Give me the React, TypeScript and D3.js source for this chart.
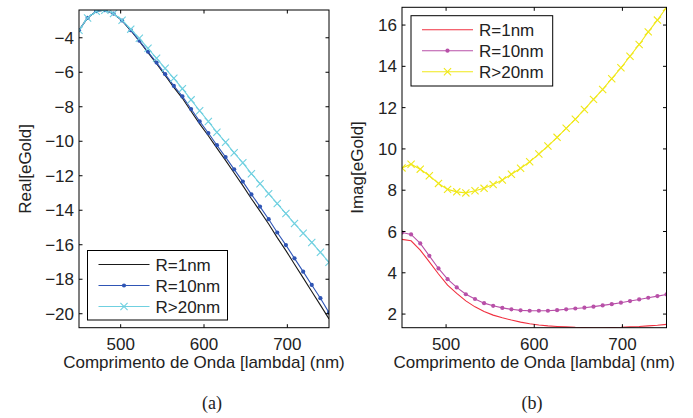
import React from "react";
import * as d3 from "d3";

// Wavelengths (nm): 30 samples between 450 and 750
const wavelength = [450.0, 460.3, 470.7, 481.0, 491.4, 501.7, 512.1, 522.4, 532.8, 543.1, 553.4, 563.8, 574.1, 584.5, 594.8, 605.2, 615.5, 625.9, 636.2, 646.6, 656.9, 667.2, 677.6, 687.9, 698.3, 708.6, 719.0, 729.3, 739.7, 750.0];

// (a) Real part
const realR1 = [-3.56, -2.85, -2.46, -2.40, -2.60, -3.01, -3.58, -4.20, -4.86, -5.50, -6.19, -6.88, -7.51, -8.26, -8.99, -9.68, -10.40, -11.11, -11.84, -12.57, -13.33, -14.05, -14.80, -15.59, -16.34, -17.13, -17.92, -18.71, -19.50, -20.30];
const realR10 = [-3.56, -2.85, -2.46, -2.40, -2.60, -3.00, -3.56, -4.17, -4.81, -5.44, -6.11, -6.79, -7.40, -8.13, -8.85, -9.52, -10.23, -10.92, -11.63, -12.34, -13.08, -13.79, -14.52, -15.29, -16.02, -16.79, -17.56, -18.33, -19.10, -19.94];
const realR20 = [-3.56, -2.85, -2.46, -2.40, -2.59, -2.98, -3.50, -4.03, -4.61, -5.19, -5.77, -6.35, -6.95, -7.60, -8.23, -8.85, -9.48, -10.06, -10.67, -11.25, -11.88, -12.46, -13.04, -13.61, -14.19, -14.77, -15.33, -15.87, -16.44, -17.02];

// (b) Imaginary part
const imagR1 = [5.62, 5.55, 5.10, 4.53, 3.94, 3.40, 3.00, 2.64, 2.35, 2.13, 1.95, 1.82, 1.71, 1.61, 1.53, 1.47, 1.43, 1.40, 1.38, 1.36, 1.35, 1.34, 1.34, 1.35, 1.36, 1.38, 1.40, 1.43, 1.46, 1.50];
const imagR10 = [5.95, 5.86, 5.42, 4.82, 4.21, 3.69, 3.29, 2.96, 2.73, 2.53, 2.40, 2.30, 2.23, 2.18, 2.16, 2.16, 2.16, 2.19, 2.23, 2.27, 2.31, 2.36, 2.42, 2.48, 2.55, 2.63, 2.71, 2.79, 2.87, 2.95];
const imagR20 = [9.08, 9.26, 9.02, 8.70, 8.33, 8.04, 7.92, 7.87, 7.97, 8.09, 8.28, 8.49, 8.77, 9.06, 9.38, 9.75, 10.14, 10.56, 11.00, 11.44, 11.91, 12.40, 12.88, 13.40, 13.93, 14.49, 15.06, 15.67, 16.24, 16.85];

const seriesNames = ["R=1nm", "R=10nm", "R>20nm"];
const xTicks = [500, 600, 700];
const realTicks = [-20, -18, -16, -14, -12, -10, -8, -6, -4];
const imagTicks = [2, 4, 6, 8, 10, 12, 14, 16];

const SANS = "'Liberation Sans', Arial, Helvetica, sans-serif";
const SERIF = "'Liberation Serif', 'Times New Roman', serif";
const FS = 17;

type Series = { name: string; values: number[]; color: string; marker: "none" | "dot" | "cross" };

function Marker({ kind, x, y, color }: { kind: string; x: number; y: number; color: string }) {
  if (kind === "dot") return <circle cx={x} cy={y} r={2.1} fill={color} />;
  if (kind === "cross") {
    const s = 3.6;
    return (
      <path d={`M${x - s},${y - s}L${x + s},${y + s}M${x - s},${y + s}L${x + s},${y - s}`} stroke={color} strokeWidth={1.1} fill="none" />
    );
  }
  return null;
}

function Panel(props: {
  id: string;
  left: number; right: number; top: number; bottom: number;
  yDomain: [number, number];
  yTicks: number[];
  series: Series[];
  ylabel: string;
  ylabelX: number;
  caption: string;
  captionX: number;
  legend: { x: number; y: number; w: number; h: number };
}) {
  const { left, right, top, bottom, series, legend } = props;
  const x = d3.scaleLinear().domain([450, 750]).range([left, right]);
  const y = d3.scaleLinear().domain(props.yDomain).range([bottom, top]);
  const fmt = d3.format("");
  const line = d3.line<number>().x((_, i) => x(wavelength[i])).y((v) => y(v));
  const tl = 3.5;
  const clipId = "clip-" + props.id;
  return (
    <g>
      <defs>
        <clipPath id={clipId}>
          <rect x={left} y={top} width={right - left} height={bottom - top} />
        </clipPath>
      </defs>
      <g clipPath={`url(#${clipId})`}>
        {series.map((s) => (
          <g key={s.name}>
            <path d={line(s.values) || ""} fill="none" stroke={s.color} strokeWidth={1.1} />
            {s.marker !== "none" &&
              s.values.map((v, i) => <Marker key={i} kind={s.marker} x={x(wavelength[i])} y={y(v)} color={s.color} />)}
          </g>
        ))}
      </g>
      {/* frame */}
      <rect x={left} y={top} width={right - left} height={bottom - top} fill="none" stroke="#000" strokeWidth={1} />
      {/* x ticks */}
      {xTicks.map((t) => (
        <g key={"x" + t}>
          <line x1={x(t)} x2={x(t)} y1={bottom} y2={bottom - tl} stroke="#000" />
          <line x1={x(t)} x2={x(t)} y1={top} y2={top + tl} stroke="#000" />
          <text x={x(t)} y={bottom + 22} textAnchor="middle" fontFamily={SANS} fontSize={FS} fill="#222">
            {fmt(t)}
          </text>
        </g>
      ))}
      {props.yTicks.map((t) => (
        <g key={"y" + t}>
          <line x1={left} x2={left + tl} y1={y(t)} y2={y(t)} stroke="#000" />
          <line x1={right} x2={right - tl} y1={y(t)} y2={y(t)} stroke="#000" />
          <text x={left - 5} y={y(t)} dy="0.36em" textAnchor="end" fontFamily={SANS} fontSize={FS} fill="#222">
            {fmt(t)}
          </text>
        </g>
      ))}
      <text x={(left + right) / 2} y={368} textAnchor="middle" fontFamily={SANS} fontSize={FS} fill="#222">
        Comprimento de Onda [lambda] (nm)
      </text>
      <text
        transform={`translate(${props.ylabelX},${(top + bottom) / 2}) rotate(-90)`}
        textAnchor="middle"
        fontFamily={SANS}
        fontSize={FS}
        fill="#222"
      >
        {props.ylabel}
      </text>
      <text x={props.captionX} y={409} textAnchor="middle" fontFamily={SERIF} fontSize={18} fill="#222">
        {props.caption}
      </text>
      {/* legend */}
      <g>
        <rect x={legend.x} y={legend.y} width={legend.w} height={legend.h} fill="#fff" stroke="#000" strokeWidth={1} />
        {series.map((s, i) => {
          const ry = legend.y + 14 + i * 21;
          const lx1 = legend.x + 11;
          const lx2 = legend.x + 62;
          return (
            <g key={"lg" + s.name}>
              <line x1={lx1} x2={lx2} y1={ry} y2={ry} stroke={s.color} strokeWidth={1.1} />
              <Marker kind={s.marker} x={(lx1 + lx2) / 2} y={ry} color={s.color} />
              <text x={legend.x + 68} y={ry} dy="0.36em" fontFamily={SANS} fontSize={FS} fill="#222">
                {s.name}
              </text>
            </g>
          );
        })}
      </g>
    </g>
  );
}

export default function App() {
  const realSeries: Series[] = [
    { name: seriesNames[0], values: realR1, color: "#1a1a1a", marker: "none" },
    { name: seriesNames[1], values: realR10, color: "#2f55b5", marker: "dot" },
    { name: seriesNames[2], values: realR20, color: "#6fd0e0", marker: "cross" },
  ];
  const imagSeries: Series[] = [
    { name: seriesNames[0], values: imagR1, color: "#f03040", marker: "none" },
    { name: seriesNames[1], values: imagR10, color: "#b850a8", marker: "dot" },
    { name: seriesNames[2], values: imagR20, color: "#f0e818", marker: "cross" },
  ];
  return (
    <svg width={693} height={418} style={{ position: "absolute", left: 0, top: 0, background: "#fff" }}>
      <rect width={693} height={418} fill="#fff" />
      <Panel
        id="a"
        left={79} right={329} top={10} bottom={327.7}
        yDomain={[-20.81, -2.39]}
        yTicks={realTicks}
        series={realSeries}
        ylabel="Real[eGold]"
        ylabelX={31}
        caption="(a)"
        captionX={212}
        legend={{ x: 87.5, y: 250.5, w: 140, h: 69.5 }}
      />
      <Panel
        id="b"
        left={402} right={666.5} top={7.3} bottom={327.7}
        yDomain={[1.34, 16.86]}
        yTicks={imagTicks}
        series={imagSeries}
        ylabel="Imag[eGold]"
        ylabelX={363}
        caption="(b)"
        captionX={532}
        legend={{ x: 411, y: 15.7, w: 141.7, h: 70.3 }}
      />
    </svg>
  );
}
